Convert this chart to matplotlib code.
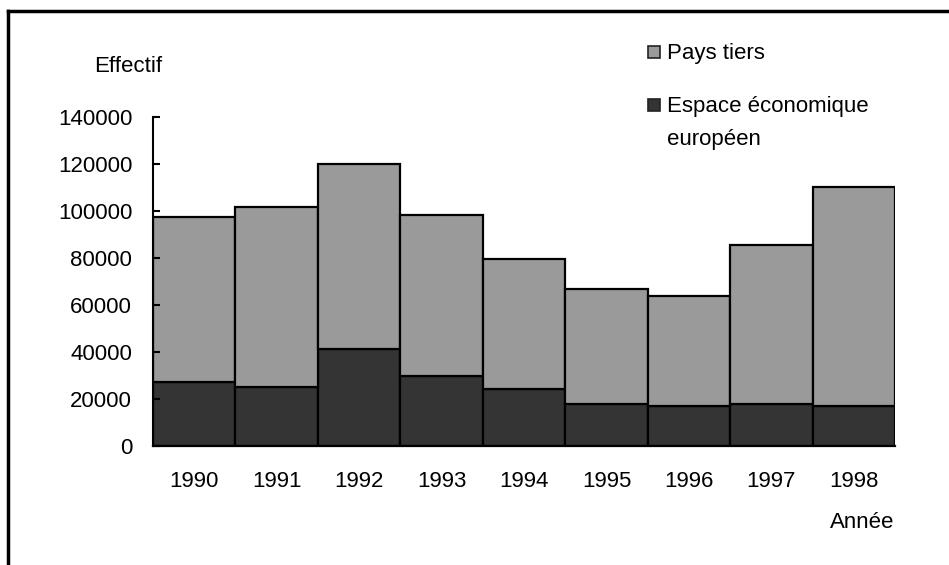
import numpy as np
import matplotlib.pyplot as plt
from matplotlib.patches import Rectangle
from matplotlib.lines import Line2D

plt.rcParams['font.family'] = ['Liberation Sans', 'DejaVu Sans']
plt.rcParams['font.size'] = 16

annees = ['1990', '1991', '1992', '1993', '1994', '1995', '1996', '1997', '1998']
eee = [27200, 25300, 41400, 29700, 24300, 17900, 17200, 17900, 17200]
total = [97300, 101900, 120000, 98300, 79600, 66700, 64000, 85700, 110000]
pays_tiers = [t - e for t, e in zip(total, eee)]

col_tiers = '#9a9a9a'
col_eee = '#343434'

fig = plt.figure(figsize=(9.49, 5.65), dpi=100)
ax = fig.add_axes([153 / 949, 1 - 446 / 565, 742 / 949, 329 / 565])

x = np.arange(len(annees))
ax.bar(x, eee, width=1.0, color=col_eee, edgecolor='black', linewidth=1.6)
ax.bar(x, pays_tiers, width=1.0, bottom=eee, color=col_tiers, edgecolor='black', linewidth=1.6)

ax.set_xlim(-0.5, len(annees) - 0.5)
ax.set_ylim(0, 140000)
ax.set_yticks(np.arange(0, 140001, 20000))
ax.set_xticks(x)
ax.set_xticklabels(annees)
ax.tick_params(axis='y', direction='in', length=5, width=1.5, pad=15)
ax.tick_params(axis='x', length=0, pad=18)
for s in ['top', 'right']:
    ax.spines[s].set_visible(False)
ax.spines['left'].set_linewidth(1.5)
ax.spines['bottom'].set_linewidth(1.6)

fig.text(128 / 949, 1 - 67 / 565, 'Effectif', ha='center', va='center')
fig.text(862 / 949, 1 - 522 / 565, 'Année', ha='center', va='center')

# légende
for yc, col, lbl in [(52, col_tiers, 'Pays tiers'),
                     (105, col_eee, 'Espace économique\neuropéen')]:
    fig.patches.append(Rectangle((648 / 949, 1 - (yc + 6) / 565), 12 / 949, 12 / 565,
                                 transform=fig.transFigure, facecolor=col,
                                 edgecolor='#222222', linewidth=1.2))
    fig.text(667 / 949, 1 - (yc - 9) / 565, lbl, ha='left', va='top', linespacing=1.75)

# cadre
fig.add_artist(Line2D([8 / 949, 1], [1 - 11 / 565, 1 - 11 / 565], color='black', linewidth=2.5))
fig.add_artist(Line2D([8 / 949, 8 / 949], [0, 1 - 11 / 565], color='black', linewidth=2.5))

fig.savefig('out.png', dpi=100)
